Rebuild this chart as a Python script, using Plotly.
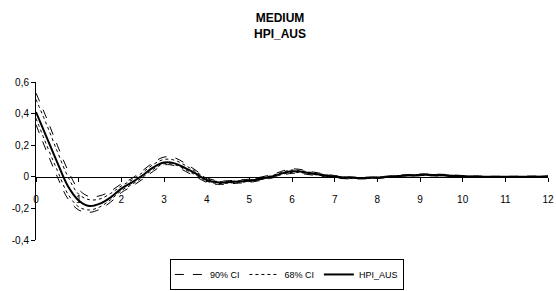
import plotly.graph_objects as go

x = [0, 0.25, 0.5, 0.75, 1, 1.25, 1.5, 1.75, 2, 2.25, 2.5, 2.75, 3, 3.25, 3.5, 3.75, 4,
     4.25, 4.5, 4.75, 5, 5.5, 6, 6.5, 7, 7.5, 8, 8.5, 9, 9.5, 10, 10.5, 11, 11.5, 12]
hpi_aus = [0.41, 0.25, 0.09, -0.06, -0.15, -0.185, -0.17, -0.13, -0.075, -0.035, 0.01, 0.06,
           0.09, 0.085, 0.055, 0.02, -0.02, -0.035, -0.035, -0.03, -0.025, 0.0, 0.035, 0.02,
           0.0, -0.008, -0.005, 0.005, 0.012, 0.01, 0.003, 0.0, 0.0, 0.0, 0.002]
ci90_upper = [0.53, 0.37, 0.2, 0.04, -0.08, -0.125, -0.12, -0.09, -0.045, -0.01, 0.04, 0.09,
              0.125, 0.12, 0.085, 0.04, -0.005, -0.025, -0.025, -0.02, -0.015, 0.012, 0.05,
              0.03, 0.008, -0.002, 0.0, 0.01, 0.018, 0.016, 0.008, 0.004, 0.003, 0.004, 0.006]
ci90_lower = [0.33, 0.16, 0.0, -0.14, -0.21, -0.225, -0.205, -0.16, -0.1, -0.06, -0.015, 0.035,
              0.075, 0.07, 0.035, 0.0, -0.035, -0.048, -0.045, -0.04, -0.035, -0.01, 0.022,
              0.01, -0.008, -0.014, -0.01, 0.0, 0.006, 0.004, -0.002, -0.004, -0.004, -0.003, -0.002]
ci68_upper = [0.49, 0.33, 0.16, 0.0, -0.11, -0.145, -0.14, -0.105, -0.058, -0.02, 0.028, 0.078,
              0.11, 0.105, 0.072, 0.032, -0.01, -0.03, -0.03, -0.025, -0.02, 0.006, 0.043,
              0.025, 0.004, -0.005, -0.002, 0.007, 0.015, 0.013, 0.005, 0.002, 0.001, 0.002, 0.004]
ci68_lower = [0.37, 0.2, 0.04, -0.11, -0.19, -0.21, -0.19, -0.145, -0.088, -0.048, -0.003, 0.047,
              0.082, 0.077, 0.045, 0.01, -0.028, -0.042, -0.04, -0.035, -0.03, -0.005, 0.028,
              0.015, -0.004, -0.011, -0.008, 0.003, 0.009, 0.007, 0.0, -0.002, -0.002, -0.001, 0.0]

x_ticks = list(range(0, 13))
y_tickvals = [-0.4, -0.2, 0, 0.2, 0.4, 0.6]
y_ticktext = ["-0,4", "-0,2", "0", "0,2", "0,4", "0,6"]

FONT = "Liberation Sans, Arial, sans-serif"

fig = go.Figure()
fig.add_trace(go.Scatter(x=x, y=ci90_upper, mode="lines", name="90% CI",
                         line=dict(color="black", width=1, dash="dash", shape="spline"),
                         legendgroup="90"))
fig.add_trace(go.Scatter(x=x, y=ci90_lower, mode="lines", name="90% CI", showlegend=False,
                         line=dict(color="black", width=1, dash="dash", shape="spline"),
                         legendgroup="90"))
fig.add_trace(go.Scatter(x=x, y=ci68_upper, mode="lines", name="68% CI",
                         line=dict(color="black", width=1, dash="dot", shape="spline"),
                         legendgroup="68"))
fig.add_trace(go.Scatter(x=x, y=ci68_lower, mode="lines", name="68% CI", showlegend=False,
                         line=dict(color="black", width=1, dash="dot", shape="spline"),
                         legendgroup="68"))
fig.add_trace(go.Scatter(x=x, y=hpi_aus, mode="lines", name="HPI_AUS",
                         line=dict(color="black", width=2, shape="spline")))

fig.add_annotation(text="<b>MEDIUM<br>HPI_AUS</b>", xref="paper", yref="paper",
                   x=0.477, y=1.465, xanchor="center", yanchor="top", showarrow=False,
                   font=dict(size=12, family=FONT, color="black"))

fig.update_layout(
    width=556, height=291,
    margin=dict(l=36, r=8, t=82, b=51, autoexpand=False),
    paper_bgcolor="white", plot_bgcolor="white",
    separators=",.",
    font=dict(family=FONT, size=10, color="black"),
    showlegend=True,
    legend=dict(orientation="h", x=0.49, xanchor="center", y=-0.12, yanchor="top",
                bordercolor="black", borderwidth=1, font=dict(size=9, family=FONT),
                itemwidth=30, tracegroupgap=0),
    xaxis=dict(range=[0, 12], tickmode="array", tickvals=x_ticks, showgrid=False,
               zeroline=False, showline=True, linecolor="black", linewidth=1,
               ticks="outside", ticklen=4, tickcolor="black", ticklabeloverflow="allow",
               anchor="free", position=0.4, ticklabelstandoff=9, automargin=False),
    yaxis=dict(range=[-0.4, 0.6], tickmode="array", tickvals=y_tickvals,
               ticktext=y_ticktext, showgrid=False, zeroline=False, showline=True,
               linecolor="black", linewidth=1, ticks="outside", ticklen=4,
               tickcolor="black", automargin=False),
)

fig.write_html("out.html", config={"displayModeBar": False},
               post_script="document.body.style.margin='0';document.body.style.overflow='hidden';")
